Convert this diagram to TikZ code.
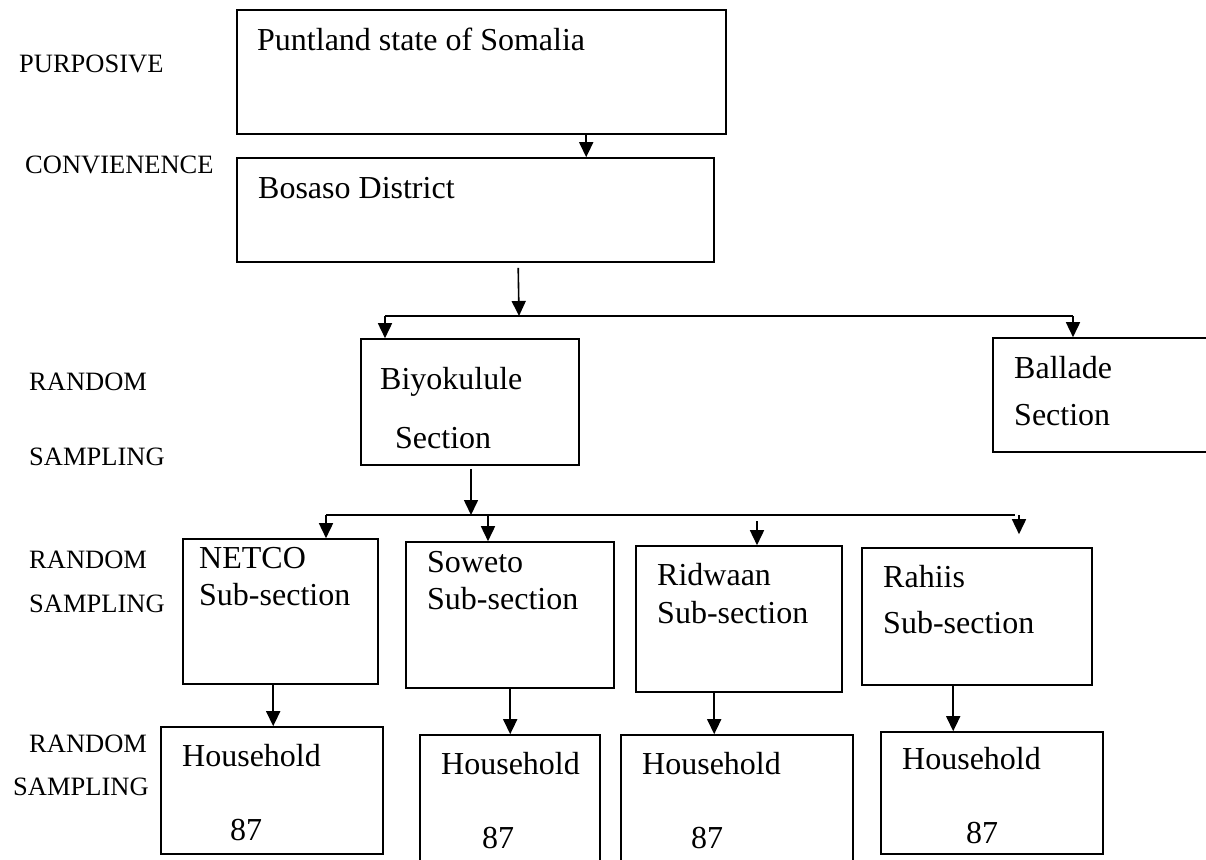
\documentclass[tikz,border=0pt]{standalone}
\usepackage{fontspec}
\setmainfont{Liberation Serif}
\usetikzlibrary{arrows.meta,fit}
\begin{document}
\begin{tikzpicture}[x=1pt,y=-1pt,
  box/.style={draw=black,line width=1.6pt,inner sep=0pt,rectangle},
  btext/.style={anchor=base west,inner sep=0pt,font=\fontsize{32}{38}\selectfont},
  ltext/.style={anchor=base west,inner sep=0pt,font=\fontsize{26.5}{32}\selectfont},
  conn/.style={line width=1.6pt},
  arr/.style={line width=1.6pt,-{Triangle[length=15pt,width=14pt]}}]
\useasboundingbox (0,0) rectangle (1206,859);

% side labels
\node[ltext] (l1) at (19,72) {PURPOSIVE};
\node[ltext] (l2) at (25,173) {CONVIENENCE};
\node[ltext] (l3a) at (29,390) {RANDOM};
\node[ltext] (l3b) at (29,465) {SAMPLING};
\node[ltext] (l4a) at (29,568) {RANDOM};
\node[ltext] (l4b) at (29,612) {SAMPLING};
\node[ltext] (l5a) at (29,752) {RANDOM};
\node[ltext] (l5b) at (13,795) {SAMPLING};

% boxes
\node[box,fit={(237,10) (726,134)}] (punt) {};
\node[box,fit={(237,158) (714,262)}] (bos) {};
\node[box,fit={(361,339) (579,465)}] (biyo) {};
\node[box,fit={(993,338) (1230,452)}] (ball) {};
\node[box,fit={(183,539) (378,684)}] (netco) {};
\node[box,fit={(406,542) (614,688)}] (sow) {};
\node[box,fit={(636,546) (842,692)}] (ridw) {};
\node[box,fit={(862,548) (1092,685)}] (rah) {};
\node[box,fit={(161,727) (383,854)}] (h1) {};
\node[box,fit={(420,735) (600,880)}] (h2) {};
\node[box,fit={(621,735) (853,880)}] (h3) {};
\node[box,fit={(881,732) (1103,854)}] (h4) {};

% box texts
\node[btext] (punt-t) at (257,51) {Puntland state of Somalia};
\node[btext] (bos-t) at (258,198) {Bosaso District};
\node[btext] (biyo-t1) at (380,389) {Biyokulule};
\node[btext] (biyo-t2) at (395,448) {Section};
\node[btext] (ball-t1) at (1014,378) {Ballade};
\node[btext] (ball-t2) at (1014,425) {Section};
\node[btext] (netco-t1) at (199,568) {NETCO};
\node[btext] (netco-t2) at (199,605) {Sub-section};
\node[btext] (sow-t1) at (427,572) {Soweto};
\node[btext] (sow-t2) at (427,609) {Sub-section};
\node[btext] (ridw-t1) at (657,585) {Ridwaan};
\node[btext] (ridw-t2) at (657,623) {Sub-section};
\node[btext] (rah-t1) at (883,587) {Rahiis};
\node[btext] (rah-t2) at (883,633) {Sub-section};
\node[btext] (h1-t1) at (182,766) {Household};
\node[btext] (h1-t2) at (230,840) {87};
\node[btext] (h2-t1) at (441,774) {Household};
\node[btext] (h2-t2) at (482,848) {87};
\node[btext] (h3-t1) at (642,774) {Household};
\node[btext] (h3-t2) at (691,848) {87};
\node[btext] (h4-t1) at (902,769) {Household};
\node[btext] (h4-t2) at (966,843) {87};

% junction coordinates
\coordinate (j1) at (519,316);
\coordinate (j1l) at (385,316);
\coordinate (j1r) at (1073,316);
\coordinate (j2) at (471,515);
\coordinate (j2l) at (326,515);
\coordinate (j2a) at (488,515);
\coordinate (j2b) at (757,521);
\coordinate (j2c) at (1019,515);
\coordinate (j2r) at (1015,515);

% connectors
\draw[arr] ([xshift=350]punt.south west) -- ([xshift=350]bos.north west);
\draw[arr] ([xshift=282,yshift=-5]bos.south west) -- (j1);
\draw[conn] (j1l) -- (j1r);
\draw[arr] (j1l) -- (biyo.north -| j1l);
\draw[arr] (j1r) -- (ball.north -| j1r);
\draw[arr] ([yshift=-3]biyo.south -| j2) -- (j2);
\draw[conn] (j2l) -- (j2r);
\draw[arr] (j2l) -- (netco.north -| j2l);
\draw[arr] (j2a) -- (sow.north -| j2a);
\draw[arr] (j2b) -- (ridw.north -| j2b);
\draw[arr] (j2c) -- ([yshift=13]rah.north -| j2c);
\draw[arr] ([xshift=91]netco.south west) -- ([xshift=113]h1.north west);
\draw[arr] ([xshift=105]sow.south west) -- ([xshift=91]h2.north west);
\draw[arr] ([xshift=79]ridw.south west) -- ([xshift=94]h3.north west);
\draw[arr] ([xshift=92]rah.south west) -- ([xshift=73]h4.north west);
\end{tikzpicture}
\end{document}
